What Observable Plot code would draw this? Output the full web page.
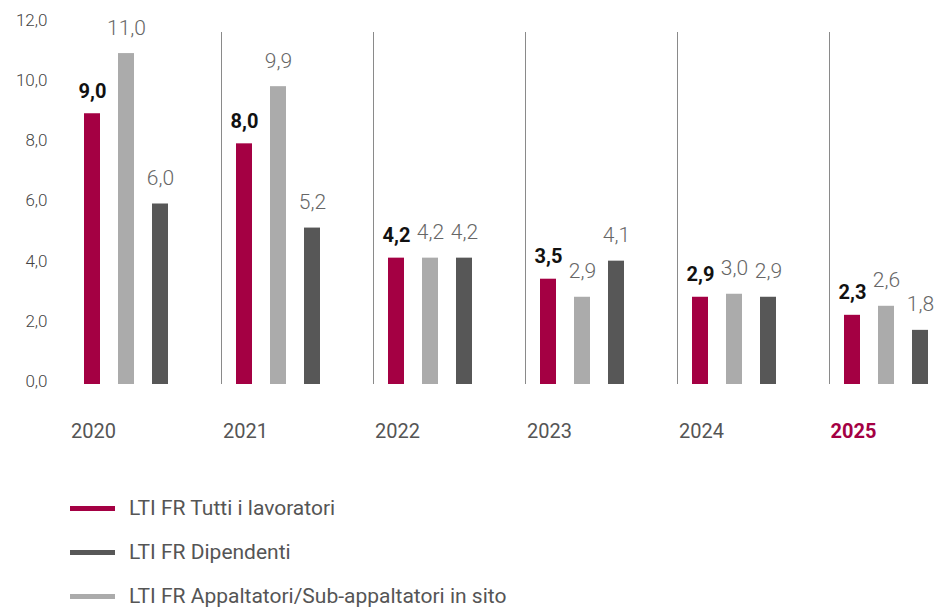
<!DOCTYPE html>
<html>
<head>
<meta charset="utf-8">
<script src="https://cdn.jsdelivr.net/npm/d3@7"></script>
<script src="https://cdn.jsdelivr.net/npm/@observablehq/plot@0.6"></script>
<style>
  body { margin: 0; background: #fff; font-family: Roboto, "Noto Sans", sans-serif; }
  #wrap { position: relative; width: 939px; height: 610px; }
  #legend { position: absolute; left: 70px; top: 486px; }
  .row { display: flex; align-items: center; height: 44px; }
  .sw { width: 45px; height: 5px; margin-right: 14px; }
  .lbl { font-size: 21px; color: #555; font-weight: 400; }
</style>
</head>
<body>
<div id="wrap">
  <div id="chart"></div>
  <div id="legend"></div>
</div>
<script>
const years = ["2020", "2021", "2022", "2023", "2024", "2025"];
const highlightYear = "2025";
const tutti = [9.0, 8.0, 4.2, 3.5, 2.9, 2.3];
const appaltatori = [11.0, 9.9, 4.2, 2.9, 3.0, 2.6];
const dipendenti = [6.0, 5.2, 4.2, 4.1, 2.9, 1.8];
const yTicks = [0, 2, 4, 6, 8, 10, 12];
const seriesNames = ["LTI FR Tutti i lavoratori", "LTI FR Dipendenti", "LTI FR Appaltatori/Sub-appaltatori in sito"];
const colors = {tutti: "#a40043", dip: "#575757", app: "#ababab"};

const fmt = v => v.toFixed(1).replace(".", ",");
const rows = (vals) => years.map((y, i) => ({year: y, value: vals[i]}));
const dT = rows(tutti), dA = rows(appaltatori), dD = rows(dipendenti);

const chart = Plot.plot({
  width: 939,
  height: 460,
  marginLeft: 84,
  marginRight: 11,
  marginTop: 23,
  marginBottom: 76,
  style: {fontFamily: "Roboto, 'Noto Sans', sans-serif", background: "white"},
  x: {domain: years, type: "band", paddingInner: 0.448, paddingOuter: 0, axis: null},
  y: {domain: [0, 12], axis: null, label: null},
  marks: [
    Plot.ruleX(years.slice(1), {x: d => d, dx: -57, stroke: "#8a8a8a", strokeWidth: 1, insetTop: 9}),
    Plot.barY(dT, {x: "year", y: "value", fill: colors.tutti, insetLeft: 0, insetRight: 68}),
    Plot.barY(dA, {x: "year", y: "value", fill: colors.app, insetLeft: 34, insetRight: 34}),
    Plot.barY(dD, {x: "year", y: "value", fill: colors.dip, insetLeft: 68, insetRight: 0}),
    Plot.text(dT, {x: "year", y: "value", text: d => fmt(d.value), dx: -34, dy: -16, lineAnchor: "bottom", fontSize: 20, fontWeight: 700, fill: "#111"}),
    Plot.text(dA, {x: "year", y: "value", text: d => fmt(d.value), dx: 0, dy: -19, lineAnchor: "bottom", fontSize: 21, fontWeight: 300, fill: "#666"}),
    Plot.text(dD, {x: "year", y: "value", text: d => fmt(d.value), dx: 34, dy: -19, lineAnchor: "bottom", fontSize: 21, fontWeight: 300, fill: "#666"}),
    Plot.axisY(yTicks, {tickSize: 0, tickPadding: 37, dy: -3, tickFormat: fmt, fontSize: 17, fontWeight: 300, fill: "#444", label: null}),
    Plot.text(years.filter(d => d !== highlightYear), {x: d => d, frameAnchor: "bottom", dx: -33, dy: 53, text: d => d, fontSize: 20, fontWeight: 400, fill: "#555"}),
    Plot.text([highlightYear], {x: d => d, frameAnchor: "bottom", dx: -33, dy: 53, text: d => d, fontSize: 20, fontWeight: 700, fill: colors.tutti})
  ]
});
document.getElementById("chart").appendChild(chart);

const legendColors = [colors.tutti, colors.dip, colors.app];
const legend = document.getElementById("legend");
seriesNames.forEach((name, i) => {
  const r = document.createElement("div");
  r.className = "row";
  const s = document.createElement("div");
  s.className = "sw";
  s.style.background = legendColors[i];
  const t = document.createElement("span");
  t.className = "lbl";
  t.textContent = name;
  r.appendChild(s); r.appendChild(t);
  legend.appendChild(r);
});
</script>
</body>
</html>
